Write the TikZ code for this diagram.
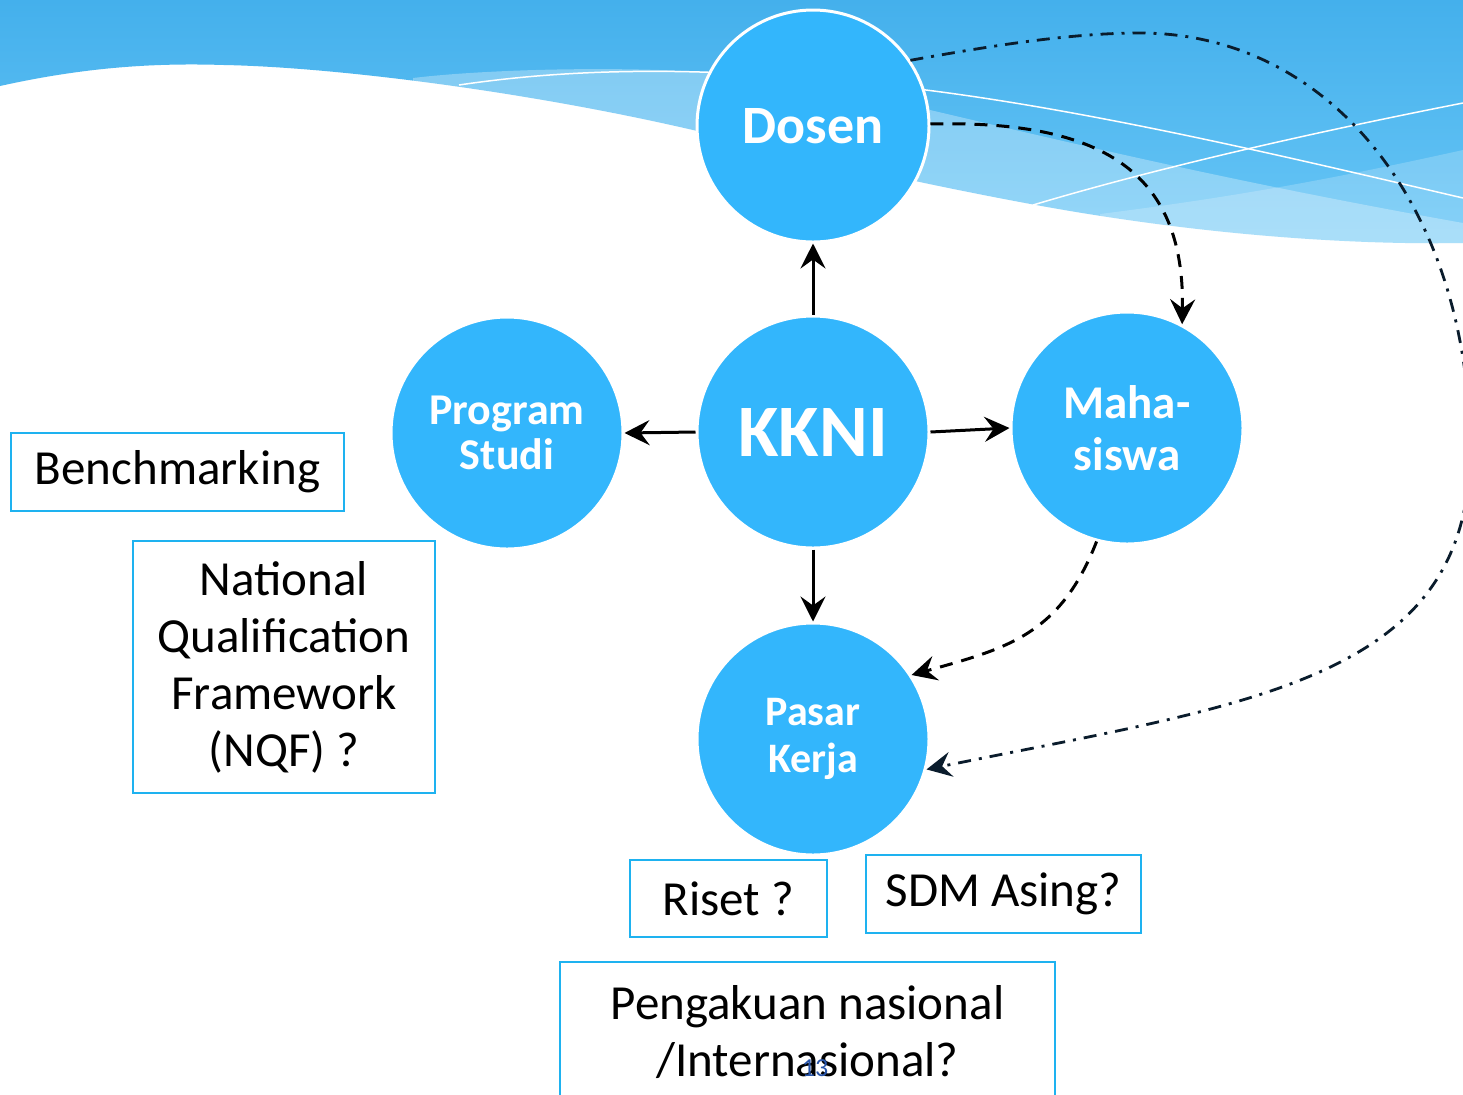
\documentclass[tikz,border=0pt]{standalone}
\usepackage{fontspec}
\setmainfont{Carlito}
\usetikzlibrary{arrows.meta}
\definecolor{circ}{RGB}{51,182,252}
\definecolor{boxc}{RGB}{30,178,240}
\definecolor{navy}{RGB}{10,28,44}
\definecolor{bandtop}{RGB}{68,176,236}
\definecolor{bandbot}{RGB}{104,198,246}
\definecolor{pgnum}{RGB}{40,85,170}
\begin{document}
\begin{tikzpicture}[x=0.5pt,y=-0.5pt,
  bubble/.style={circle, fill=circ, draw=white, line width=1.5pt, minimum size=116pt, inner sep=0pt, text=white, align=center},
  infobox/.style={draw=boxc, line width=1pt, align=center, inner sep=0pt, font=\fontsize{24.5}{28.5}\selectfont},
  arr/.style={-{Stealth[length=12.5pt,width=12.5pt,inset=4.5pt]}, line width=1.5pt},
  dashedarr/.style={arr, dash pattern=on 6.5pt off 4.5pt},
  dotarr/.style={-{Stealth[length=12.5pt,width=12.5pt,inset=4.5pt]}, line width=1.4pt, draw=navy, dash pattern=on 6.5pt off 4pt on 1.5pt off 4pt},
  wline/.style={draw=white, line width=0.75pt}]
\useasboundingbox (0,0) rectangle (1463,1094);
\fill[white] (0,0) rectangle (1463,1094);
\clip (0,0) rectangle (1463,1094);
% background band
\shade[top color=bandtop, bottom color=bandbot]
  (0,0) -- (0,86) .. controls (90,66) and (160,63) .. (224,65)
  .. controls (330,67) and (520,90) .. (693,130)
  .. controls (800,155) and (900,180) .. (1036,205)
  .. controls (1200,235) and (1350,245) .. (1463,243) -- (1463,0) -- cycle;
% translucent waves
\fill[white, opacity=0.3] (413,78) .. controls (480,70) and (600,66) .. (707,72)
  .. controls (800,80) and (870,98) .. (930,110)
  .. controls (1100,150) and (1250,185) .. (1463,223) -- (1463,320) -- (413,320) -- cycle;
\fill[white, opacity=0.2] (1100,214) .. controls (1250,195) and (1350,175) .. (1463,150)
  -- (1463,320) -- (1100,320) -- cycle;
\draw[wline] (459,85) .. controls (560,70) and (700,62) .. (926,90)
  .. controls (1100,112) and (1300,160) .. (1463,198);
\draw[wline] (1033,205) .. controls (1150,170) and (1300,135) .. (1463,103);
% circles
\node[bubble, font=\fontsize{27}{30}\selectfont\bfseries] (dosen) at (813,126) {Dosen};
\node[bubble, font=\fontsize{37}{40}\selectfont\bfseries] (kkni) at (813,432) {KKNI};
\node[bubble, font=\fontsize{22}{22.5}\selectfont\bfseries] (prodi) at (507,433) {Program\\Studi};
\node[bubble, font=\fontsize{23.5}{26}\selectfont\bfseries] (maha) at (1127,428) {Maha-\\siswa};
\node[bubble, font=\fontsize{21}{23.5}\selectfont\bfseries] (pasar) at (813,739) {Pasar\\Kerja};
% boxes
\node[infobox, minimum width=166.5pt, minimum height=39pt] (bench) at (177.5,472) {Benchmarking};
\node[infobox, minimum width=151pt, minimum height=126pt] (nqf) at (284,667) {National\\Qualification\\Framework\\(NQF) ?};
\node[infobox, minimum width=98.5pt, minimum height=38.5pt] (riset) at (728.5,898.5) {Riset ?};
\node[infobox, minimum width=137.5pt, minimum height=39pt] (sdm) at (1003.5,894) {SDM Asing?};
\node[infobox, minimum width=247.5pt, minimum height=70pt] (peng) at (807.5,1032) {Pengakuan nasional\\/Internasional?};
\node[text=pgnum, font=\fontsize{13}{15}\selectfont, inner sep=0pt] (pg) at (815,1068) {13};
% straight arrows
\draw[arr] (kkni.north) -- (dosen.south);
\draw[arr] (kkni.west) -- (prodi.east);
\draw[arr] (kkni.east) -- (maha.west);
\draw[arr] (kkni.south) -- (pasar.north);
% dashed arrows
\draw[dashedarr] (dosen.1) .. controls (1100,120) and (1185,170) .. (maha.62);
\draw[dashedarr] (maha.-105) .. controls (1060,635) and (1008,648) .. (pasar.33);
% dash-dot arrow
\coordinate (farR) at (1470,450);
\coordinate (peak) at (1140,33);
\draw[dotarr] (dosen.34) .. controls (990,46) and (1070,33) .. (peak)
  .. controls (1331,33) and (1470,208) .. (farR)
  .. controls (1470,680) and (1253,703) .. (pasar.-15);
\end{tikzpicture}
\end{document}
